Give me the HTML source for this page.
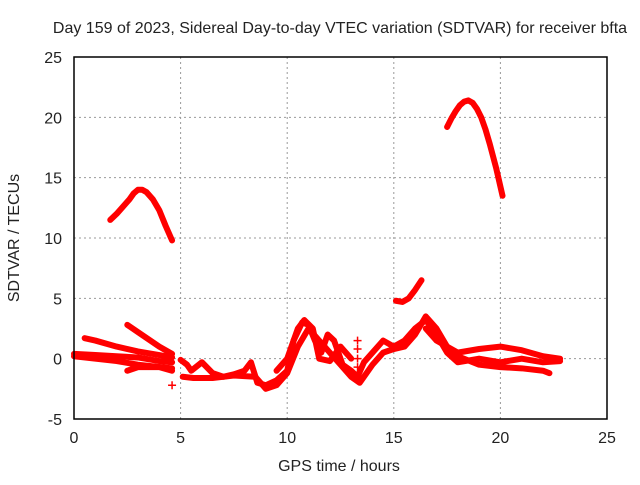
<!DOCTYPE html>
<html><head><meta charset="utf-8"><style>
body{margin:0;background:#fff;}
svg text{font-family:"Liberation Sans",sans-serif;font-size:16px;fill:#222;}
</style></head><body>
<svg id="chart" width="640" height="480">
<text x="340" y="33" text-anchor="middle">Day 159 of 2023, Sidereal Day-to-day VTEC variation (SDTVAR) for receiver bfta</text>
<text x="339" y="471" text-anchor="middle">GPS time / hours</text>
<text x="0" y="0" transform="translate(19,238) rotate(-90)" text-anchor="middle">SDTVAR / TECUs</text>
<g id="grid"></g>
<g id="ticks"></g>
<g id="data"></g>
<rect x="74" y="57" width="533" height="362" fill="none" stroke="#000" stroke-width="1.5"/>
</svg>
<script>
const xTicks=[0,5,10,15,20,25];
const yTicks=[-5,0,5,10,15,20,25];
const arc1=[[1.7,11.5],[2.0,12.0],[2.3,12.6],[2.6,13.2],[2.8,13.7],[3.0,14.0],[3.2,14.0],[3.4,13.8],[3.7,13.2],[4.0,12.3],[4.3,11.0],[4.6,9.8]];
const arc2=[[17.5,19.2],[17.7,19.9],[17.9,20.5],[18.1,21.0],[18.3,21.3],[18.5,21.4],[18.7,21.2],[18.9,20.7],[19.1,20.0],[19.3,19.0],[19.5,17.8],[19.8,15.8],[20.1,13.5]];
const arc3=[[15.1,4.8],[15.4,4.7],[15.7,5.0],[16.0,5.7],[16.3,6.5]];
const trA=[[0,0.4],[1,0.3],[2,0.2],[3,0.1],[4,-0.2],[4.6,-0.3]];
const trB=[[0.5,1.7],[1,1.5],[2,1.0],[3,0.6],[4,0.3],[4.6,0.1]];
const trC=[[2.5,2.8],[3,2.2],[3.5,1.6],[4,1.0],[4.6,0.4]];
const trD=[[2.5,-1.0],[3,-0.7],[4,-0.7],[4.6,-1.0]];
const trE=[[0,0.2],[1,0],[2,-0.2],[3,-0.5],[4.6,-0.8]];
const trF=[[5.0,-0.1],[5.3,-0.5],[5.5,-1.0],[6,-0.3],[6.5,-1.2],[7,-1.5],[7.5,-1.3],[8,-1.0],[8.3,-0.3],[8.6,-2.0],[9,-2.2],[9.5,-1.8],[10,-1.0],[10.3,1.5],[10.7,3.0],[11,2.8],[11.3,1.5],[11.6,0.5],[11.9,2.0],[12.2,1.5],[12.6,-0.5],[13,-1.0],[13.3,-1.5],[13.6,-0.3],[14,0.5],[14.5,1.5],[15,1.0],[15.5,1.5],[16,2.5],[16.5,3.2],[17,2.0],[17.5,0.5],[18,-0.3],[19,0],[20,-0.3],[21,0],[22,-0.3],[22.8,-0.2]];
const trG=[[5.1,-1.5],[5.6,-1.6],[6.5,-1.6],[7.5,-1.4],[8.5,-1.5],[9,-2.5],[9.5,-2.2],[10,-1.2],[10.5,1.0],[11,2.5],[11.5,1.5],[12,0.5],[12.5,-0.5],[13,-1.5],[13.4,-2.0],[14,-0.5],[14.5,0.5],[15,0.8],[15.5,1.0],[16,2.0],[16.5,3.5],[17,2.5],[17.5,1.0],[18,0.2],[19,-0.5],[20,-0.7],[21,-0.8],[22,-1.0],[22.3,-1.2]];
const trH=[[9.5,-1.0],[10,0],[10.5,2.5],[10.8,3.2],[11.2,2.5],[11.5,0],[12,-0.2],[12.5,1],[13,0]];
const trI=[[16.5,2.5],[17,1.5],[18,0.5],[19,0.8],[20,1],[21,0.7],[22,0.2],[22.8,0]];
const markers=[[4.6,-2.2],[13.3,1.5],[13.3,0.8],[13.3,0],[13.3,-0.7]];
const series=[arc1,arc2,arc3,trA,trB,trC,trD,trE,trF,trG,trH,trI];
const X=v=>74+v*(533/25), Y=v=>419-(v+5)*(362/30);
const NS="http://www.w3.org/2000/svg";
const grid=document.getElementById('grid'),ticks=document.getElementById('ticks'),data=document.getElementById('data');
function mk(t,a,p){const e=document.createElementNS(NS,t);for(const k in a)e.setAttribute(k,a[k]);p.appendChild(e);return e;}
xTicks.forEach(t=>{const x=X(t);
 if(t>0&&t<25){const g=mk('line',{x1:x,x2:x,y1:57,y2:419,stroke:'#999','stroke-dasharray':'2,3'},grid);
 
 }
 const l=mk('text',{x:x,y:443,'text-anchor':'middle'},ticks);l.textContent=t;
 
 });
yTicks.forEach(t=>{const y=Y(t);
 if(t>-5&&t<25){const g=mk('line',{x1:74,x2:607,y1:y,y2:y,stroke:'#999','stroke-dasharray':'2,3'},grid);
 
 }
 const l=mk('text',{x:62,y:y+6,'text-anchor':'end'},ticks);l.textContent=t;
 
 });
series.forEach(s=>{const p=mk('polyline',{points:s.map(d=>X(d[0])+','+Y(d[1])).join(' '),fill:'none',stroke:'#f00','stroke-width':6,'stroke-linejoin':'round','stroke-linecap':'round'},data);
 
 });
markers.forEach(m=>{const x=X(m[0]),y=Y(m[1]);
 const p=mk('path',{d:`M${x-4},${y}H${x+4}M${x},${y-4}V${y+4}`,stroke:'#f00','stroke-width':1.5},data);
 
 });
</script>
</body></html>
